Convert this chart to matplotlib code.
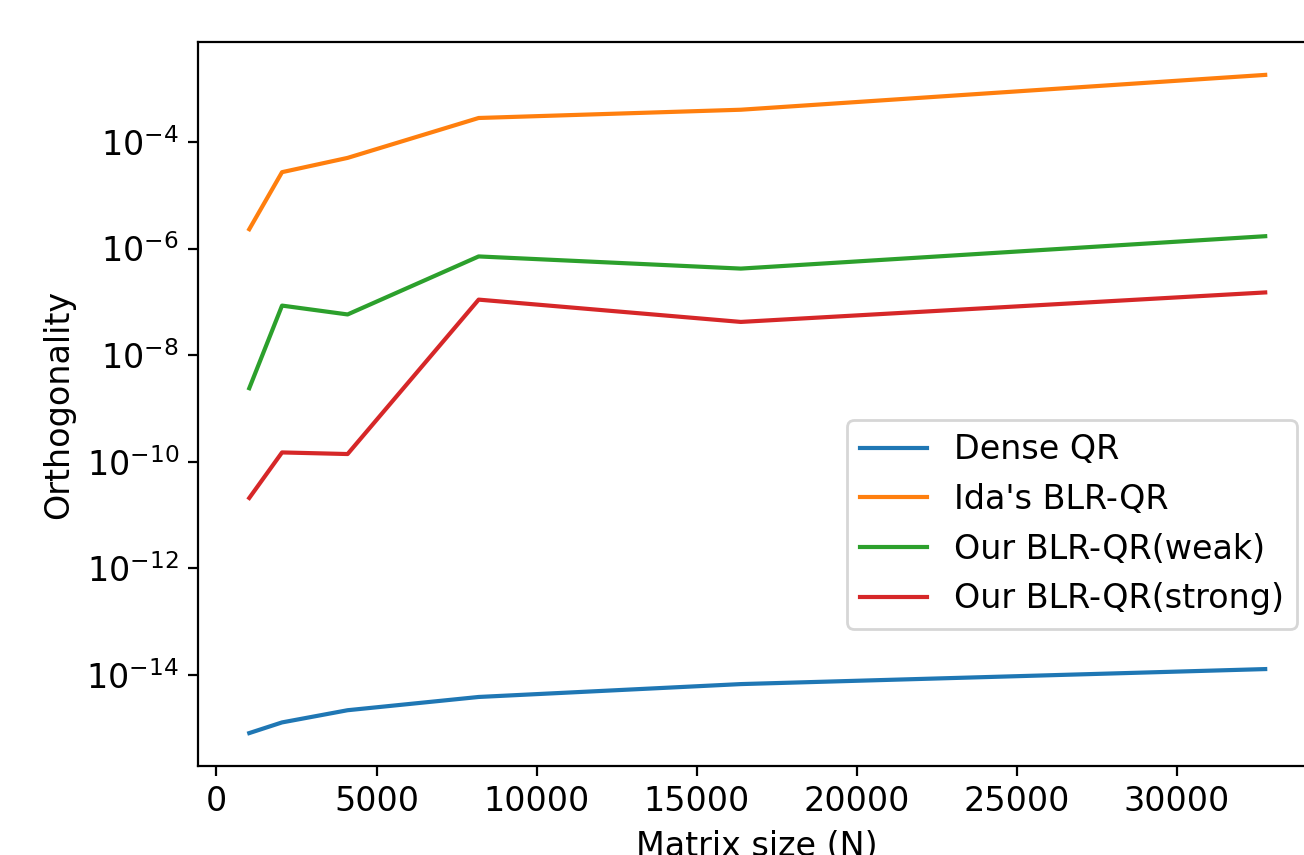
import matplotlib
matplotlib.use("Agg")
import matplotlib.pyplot as plt

# matrix sizes and orthogonality errors
sizes = [1024, 2048, 4096, 8192, 16384, 32768]
dense_qr = [8.2e-16, 1.3e-15, 2.2e-15, 3.9e-15, 6.8e-15, 1.3e-14]
ida_blr = [2.3e-6, 2.7e-5, 5.0e-5, 2.8e-4, 4.0e-4, 1.8e-3]
our_weak = [2.4e-9, 8.5e-8, 5.8e-8, 7.1e-7, 4.2e-7, 1.7e-6]
our_strong = [2.1e-11, 1.5e-10, 1.4e-10, 1.1e-7, 4.2e-8, 1.5e-7]

plt.rcParams['font.size'] = 12

fig = plt.figure(figsize=(6.52, 4.275), dpi=200)
# axes runs past the right edge, like the cropped original
ax = fig.add_axes([0.1522, 0.1041, 0.857, 0.8468])

ax.plot(sizes, dense_qr, label="Dense QR")
ax.plot(sizes, ida_blr, label="Ida's BLR-QR")
ax.plot(sizes, our_weak, label="Our BLR-QR(weak)")
ax.plot(sizes, our_strong, label="Our BLR-QR(strong)")

ax.set_yscale('log')
ax.set_xlabel("Matrix size (N)")
ax.set_ylabel("Orthogonality")

ax.legend(loc='upper right', bbox_to_anchor=(1297 / 1304, 1 - 420 / 855),
          bbox_transform=fig.transFigure, borderaxespad=0)

fig.savefig("out.png", dpi=200)
